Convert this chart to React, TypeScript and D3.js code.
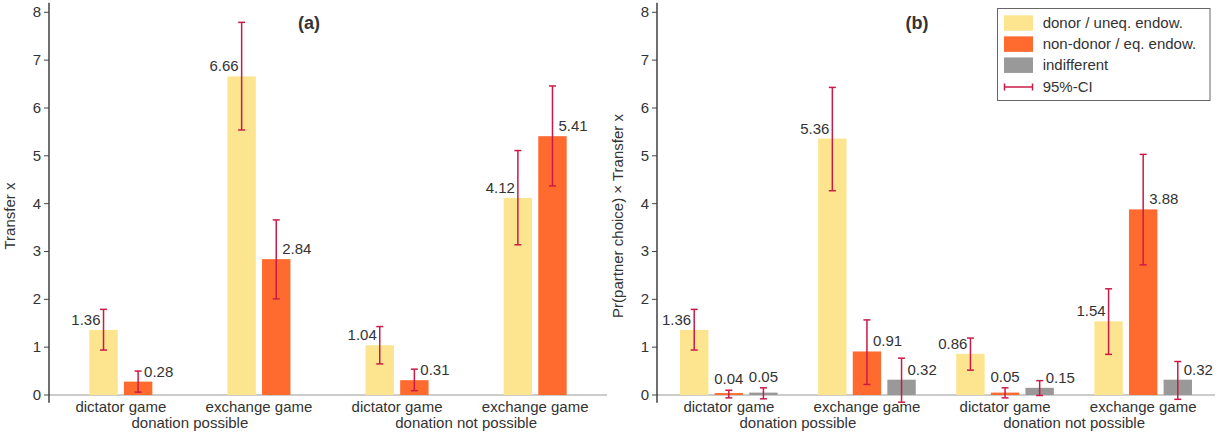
import React from "react";
import * as d3 from "d3";

const games = ["dictator game", "exchange game", "dictator game", "exchange game"];
const conditions = ["donation possible", "donation not possible"];
const seriesNames = ["donor / uneq. endow.", "non-donor / eq. endow.", "indifferent"];
const seriesColors = ["#fde48f", "#ff6a2e", "#999999"];
const ciColor = "#cc1a48";
const yTicks = [0, 1, 2, 3, 4, 5, 6, 7, 8];

// Panel (a): Transfer x
const aValues = [
  [1.36, 6.66, 1.04, 4.12],
  [0.28, 2.84, 0.31, 5.41],
];
const aLow = [
  [0.94, 5.54, 0.65, 3.14],
  [0.06, 2.01, 0.09, 4.37],
];
const aHigh = [
  [1.79, 7.79, 1.43, 5.11],
  [0.5, 3.66, 0.54, 6.46],
];

// Panel (b): Pr(partner choice) x Transfer x
const bValues = [
  [1.36, 5.36, 0.86, 1.54],
  [0.04, 0.91, 0.05, 3.88],
  [0.05, 0.32, 0.15, 0.32],
];
const bLow = [
  [0.94, 4.27, 0.52, 0.85],
  [-0.06, 0.22, -0.06, 2.72],
  [-0.08, -0.15, -0.01, -0.09],
];
const bHigh = [
  [1.79, 6.43, 1.19, 2.22],
  [0.1, 1.57, 0.15, 5.03],
  [0.15, 0.77, 0.3, 0.7],
];

const FONT = "'Liberation Sans', Arial, Helvetica, sans-serif";
const TEXT = "#333";

type PanelProps = {
  x0: number;
  title: string;
  yLabel: string;
  values: number[][];
  low: number[][];
  high: number[][];
};

function Panel({ x0, title, yLabel, values, low, high }: PanelProps) {
  const width = 558;
  const y = d3.scaleLinear().domain([0, 8]).range([395, 12.3]);
  const yTop = y(8.2);
  const yBot = y(-0.16);
  const x = d3
    .scaleBand<number>()
    .domain(d3.range(games.length))
    .range([x0, x0 + width])
    .paddingInner(0)
    .paddingOuter(0.02);
  const nS = values.length;
  const barW = 28.4;
  const barStep = 34.6;
  const inner = d3
    .scaleLinear()
    .domain([0, nS - 1])
    .range([-(nS - 1) * barStep / 2, (nS - 1) * barStep / 2]);
  const center = (g: number) => (x(g) as number) + x.bandwidth() / 2;

  return (
    <g fontFamily={FONT} fill={TEXT}>
      {/* baseline */}
      <line x1={x0} x2={x0 + width} y1={y(0)} y2={y(0)} stroke="#999" strokeWidth={1.2} />
      {/* bars */}
      {values.map((row, s) =>
        row.map((v, g) => {
          const cx = center(g) + inner(s);
          return (
            <rect
              key={`b${s}-${g}`}
              x={cx - barW / 2}
              width={barW}
              y={y(v)}
              height={y(0) - y(v)}
              fill={seriesColors[s]}
            />
          );
        })
      )}
      {/* error bars */}
      {values.map((row, s) =>
        row.map((v, g) => {
          const cx = center(g) + inner(s);
          const lo = y(low[s][g]);
          const hi = y(high[s][g]);
          return (
            <g key={`e${s}-${g}`} stroke={ciColor} strokeWidth={1.5}>
              <line x1={cx} x2={cx} y1={lo} y2={hi} />
              <line x1={cx - 3.5} x2={cx + 3.5} y1={lo} y2={lo} />
              <line x1={cx - 3.5} x2={cx + 3.5} y1={hi} y2={hi} />
            </g>
          );
        })
      )}
      {/* value labels */}
      {values.map((row, s) =>
        row.map((v, g) => {
          const cx = center(g) + inner(s);
          let tx = cx + 6;
          let ty = y(v) - 5;
          let anchor: "start" | "end" | "middle" = "start";
          if (s === 0) {
            tx = cx - 3;
            anchor = "end";
          } else if (v < 0.1) {
            tx = cx;
            ty = y(high[s][g]) - 6;
            anchor = "middle";
          }
          return (
            <text key={`l${s}-${g}`} x={tx} y={ty} textAnchor={anchor} fontSize={15} fill={TEXT}>
              {v.toFixed(2)}
            </text>
          );
        })
      )}
      {/* y axis */}
      <line x1={x0} x2={x0} y1={yTop} y2={yBot} stroke="#222" strokeWidth={1.3} />
      {yTicks.map((t) => (
        <g key={`t${t}`}>
          <line x1={x0 - 5} x2={x0} y1={y(t)} y2={y(t)} stroke="#444" strokeWidth={1} />
          <text x={x0 - 8} y={y(t) + 5} textAnchor="end" fontSize={15} fill={TEXT}>
            {t}
          </text>
        </g>
      ))}
      <text
        transform={`translate(${x0 - 34},216) rotate(-90)`}
        textAnchor="middle"
        fontSize={15}
        fill={TEXT}
      >
        {yLabel}
      </text>
      {/* category labels */}
      {games.map((gName, g) => (
        <text key={`c${g}`} x={center(g)} y={411.5} textAnchor="middle" fontSize={15} fill={TEXT}>
          {gName}
        </text>
      ))}
      {conditions.map((c, i) => (
        <text
          key={`k${i}`}
          x={(center(2 * i) + center(2 * i + 1)) / 2}
          y={428}
          textAnchor="middle"
          fontSize={15}
          fill={TEXT}
        >
          {c}
        </text>
      ))}
      {/* title */}
      <text x={x0 + width / 2 - 19} y={29} textAnchor="middle" fontSize={18} fontWeight="bold" fill={TEXT}>
        {title}
      </text>
    </g>
  );
}

function Legend() {
  const lx = 997.5;
  const ly = 8.5;
  const rowY = d3.scaleLinear().domain([0, 3]).range([28.3, 91.5]);
  return (
    <g fontFamily={FONT}>
      <rect x={lx} y={ly} width={212.5} height={92} fill="#fff" stroke="#666" strokeWidth={1} />
      {seriesNames.map((n, i) => (
        <g key={n}>
          <rect x={1004} y={rowY(i) - 13} width={29} height={15.5} fill={seriesColors[i]} />
          <text x={1042.7} y={rowY(i)} fontSize={15} fill={TEXT}>
            {n}
          </text>
        </g>
      ))}
      <g stroke={ciColor} strokeWidth={1.5}>
        <line x1={1004.5} x2={1032.5} y1={rowY(3) - 4.5} y2={rowY(3) - 4.5} />
        <line x1={1004.5} x2={1004.5} y1={rowY(3) - 8} y2={rowY(3) - 1} />
        <line x1={1032.5} x2={1032.5} y1={rowY(3) - 8} y2={rowY(3) - 1} />
      </g>
      <text x={1042.7} y={rowY(3)} fontSize={15} fill={TEXT}>
        95%-CI
      </text>
    </g>
  );
}

export default function App() {
  return (
    <svg
      width={1224}
      height={437}
      style={{ position: "absolute", left: 0, top: 0, background: "#fff" }}
    >
      <rect x={0} y={0} width={1224} height={437} fill="#fff" />
      <Panel x0={49} title="(a)" yLabel="Transfer x" values={aValues} low={aLow} high={aHigh} />
      <Panel
        x0={657}
        title="(b)"
        yLabel="Pr(partner choice) × Transfer x"
        values={bValues}
        low={bLow}
        high={bHigh}
      />
      <Legend />
    </svg>
  );
}
